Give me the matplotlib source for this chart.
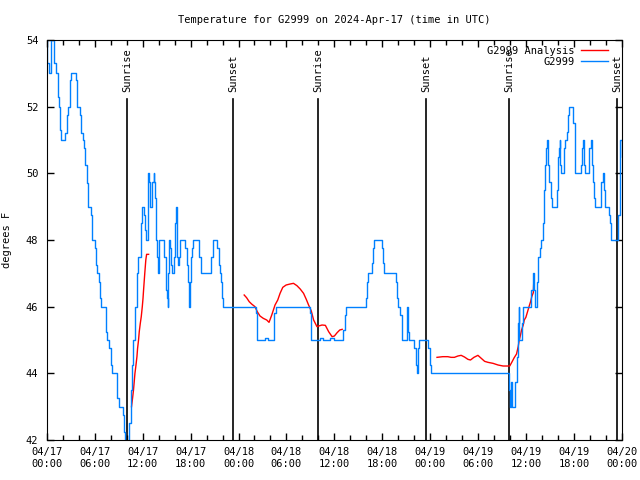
import matplotlib
matplotlib.use("Agg")
import matplotlib.pyplot as plt
from matplotlib.ticker import MultipleLocator, FixedLocator

# -----------------------
# Data (hours since 2024-04-17 00:00 UTC, degrees F)
# -----------------------
obs_hours = [0.0, 0.04, 0.25, 0.54, 0.88, 1.1, 1.38, 1.5, 1.64, 1.72, 1.8, 2.35, 2.48, 2.64,
             2.9, 3.06, 3.61, 3.81, 4.15, 4.32, 4.57, 4.72, 4.85, 5.0, 5.16, 5.58, 5.7, 6.04,
             6.21, 6.33, 6.55, 6.67, 6.84, 7.39, 7.59, 7.8, 8.02, 8.14, 8.85, 9.06, 9.57, 9.69,
             9.82, 10.32, 10.54, 10.66, 10.74, 11.04, 11.24, 11.37, 11.8, 11.87, 12.12, 12.3,
             12.45, 12.63, 12.84, 12.97, 13.13, 13.38, 13.47, 13.56, 13.68, 13.76, 13.89, 14.01,
             14.1, 14.64, 14.73, 14.98, 15.07, 15.14, 15.23, 15.36, 15.44, 15.57, 15.65, 15.9,
             16.07, 16.2, 16.28, 16.4, 16.53, 16.7, 17.33, 17.53, 17.66, 17.75, 17.88, 18.0,
             18.16, 18.29, 19.01, 19.26, 19.35, 20.61, 20.81, 21.31, 21.53, 21.74, 21.86, 21.99,
             22.12, 26.18, 26.35, 27.3, 27.7, 28.45, 28.7, 32.98, 33.11, 34.24, 34.62, 35.5,
             36.0, 37.1, 37.3, 37.42, 39.94, 40.12, 40.24, 40.66, 40.79, 40.95, 41.92, 42.04,
             42.21, 43.68, 43.81, 44.02, 44.22, 44.4, 44.52, 45.03, 45.1, 45.23, 45.35, 45.91,
             46.2, 46.28, 46.49, 46.61, 47.67, 47.96, 48.09, 57.82, 57.94, 58.07, 58.24, 58.57,
             58.79, 59.0, 59.08, 59.16, 59.42, 59.54, 60.59, 60.8, 60.89, 61.02, 61.09, 61.39,
             61.52, 61.72, 61.85, 62.06, 62.22, 62.35, 62.48, 62.6, 62.69, 62.9, 63.07, 63.19,
             63.82, 64.04, 64.11, 64.2, 64.29, 64.41, 64.74, 64.87, 65.08, 65.29, 65.42, 65.92,
             66.09, 66.13, 66.84, 66.97, 67.1, 67.18, 67.31, 67.89, 68.06, 68.19, 68.32, 68.44,
             68.64, 69.4, 69.57, 69.77, 69.9, 70.33, 70.53, 70.66, 71.55, 71.7, 71.8, 71.95, 72.1]
obs_temps = [54.0, 53.3, 53.0, 54.0, 53.3, 53.0, 52.3, 52.0, 51.75, 51.3, 51.0, 51.2, 51.75, 52.0,
             52.8, 53.0, 52.8, 52.0, 51.75, 51.2, 51.0, 50.75, 50.25, 49.7, 49.0, 48.75, 48.0, 47.75,
             47.25, 47.0, 46.75, 46.25, 46.0, 45.25, 45.0, 44.75, 44.25, 44.0, 43.25, 43.0, 42.75, 42.25,
             41.5, 42.5, 43.5, 44.25, 45.0, 46.0, 47.0, 47.5, 48.5, 49.0, 48.75, 48.3,
             48.0, 50.0, 49.75, 49.0, 49.75, 50.0, 49.75, 49.25, 48.0, 47.5, 47.0, 47.5,
             48.0, 47.75, 47.5, 46.5, 46.25, 46.0, 47.0, 48.0, 47.75, 47.25, 47.0, 47.5,
             48.5, 49.0, 47.5, 47.25, 47.5, 48.0, 47.75, 47.25, 46.75, 46.0, 46.75, 47.5,
             47.75, 48.0, 47.5, 47.25, 47.0, 47.5, 48.0, 47.75, 47.25, 47.0, 46.75, 46.25,
             46.0, 45.8, 45.0, 45.05, 45.0, 45.8, 46.0, 45.8, 45.0, 45.05, 45.0, 45.05,
             45.0, 45.3, 45.75, 46.0, 46.25, 46.75, 47.0, 47.3, 47.75, 48.0, 47.75, 47.3,
             47.0, 46.75, 46.25, 46.0, 45.75, 45.25, 45.0, 45.75, 46.0, 45.25, 45.0, 44.75,
             44.25, 44.0, 44.75, 45.0, 44.75, 44.25, 44.0, 43.5, 43.0, 43.75, 43.0, 43.75,
             44.5, 45.5, 46.0, 45.0, 45.5, 46.0, 46.5, 46.75, 47.0, 46.5, 46.0, 46.75,
             47.5, 47.75, 48.0, 48.5, 49.5, 50.25, 50.75, 51.0, 50.25, 49.75, 49.25, 49.0,
             49.5, 50.5, 50.75, 51.0, 50.25, 50.0, 50.75, 51.0, 51.25, 51.75, 52.0, 51.5,
             50.5, 50.0, 50.25, 50.75, 51.0, 50.25, 50.0, 50.75, 51.0, 50.25, 49.75, 49.25,
             49.0, 49.75, 50.0, 49.5, 49.0, 48.75, 48.5, 48.0, 48.75, 50.5, 51.0, 50.5, 50.5]

ana1_hours = [10.61, 10.74, 10.86, 11.04, 11.17, 11.29, 11.37, 11.49, 11.58, 11.71, 11.83,
              11.96, 12.05, 12.12, 12.27, 12.4, 12.5, 12.75]
ana1_temps = [43.0, 43.25, 43.5, 44.0, 44.25, 44.5, 44.75, 45.0, 45.25, 45.5, 45.7,
              46.0, 46.25, 46.5, 47.0, 47.4, 47.57, 47.57]

ana2_hours = [24.71, 25.01, 25.34, 25.64, 26.06, 26.35, 26.69, 27.1, 27.53, 27.82, 28.16,
              28.57, 28.91, 29.2, 29.54, 29.96, 30.46, 30.88, 31.31, 31.72, 32.14, 32.48,
              32.77, 33.11, 33.4, 33.82, 34.03, 34.45, 34.87, 35.28, 35.71, 36.0, 36.34,
              36.67, 36.97]
ana2_temps = [46.35, 46.27, 46.15, 46.08, 46.0, 45.85, 45.72, 45.65, 45.6, 45.53, 45.75,
              46.05, 46.2, 46.4, 46.58, 46.65, 46.68, 46.7, 46.63, 46.53, 46.4, 46.22,
              46.05, 45.87, 45.6, 45.4, 45.42, 45.45, 45.44, 45.25, 45.1, 45.12, 45.22,
              45.3, 45.32]

ana3_hours = [48.84, 49.56, 50.19, 50.6, 51.02, 51.45, 51.86, 52.28, 52.71, 53.03, 53.46,
              53.96, 54.38, 54.8, 55.22, 55.85, 56.48, 57.11, 57.94, 58.24, 58.5, 58.79,
              59.0, 59.13, 59.29, 59.42, 59.63, 59.76, 59.96, 60.17, 60.38, 60.55, 60.7,
              60.89, 60.95]
ana3_temps = [44.48, 44.5, 44.5, 44.48, 44.48, 44.52, 44.54, 44.49, 44.42, 44.4, 44.48,
              44.54, 44.45, 44.36, 44.33, 44.3, 44.25, 44.22, 44.22, 44.35, 44.47, 44.58,
              44.8, 45.0, 45.15, 45.3, 45.45, 45.6, 45.68, 45.85, 46.02, 46.15, 46.3,
              46.42, 46.75]

sunrise_hours = [10.03, 34.0, 57.9]
sunset_hours = [23.37, 47.45, 71.35]

tick_hours = [0, 6, 12, 18, 24, 30, 36, 42, 48, 54, 60, 66, 72]
tick_labels = ["04/17\n00:00", "04/17\n06:00", "04/17\n12:00", "04/17\n18:00",
               "04/18\n00:00", "04/18\n06:00", "04/18\n12:00", "04/18\n18:00",
               "04/19\n00:00", "04/19\n06:00", "04/19\n12:00", "04/19\n18:00",
               "04/20\n00:00"]

# -----------------------
# Plot
# -----------------------
plt.rcParams["font.family"] = ["DejaVu Sans Mono"]
plt.rcParams["font.size"] = 7

fig = plt.figure(figsize=(6.4, 4.8), dpi=100)
ax = fig.add_axes([0.073, 0.0833, 0.899, 0.8334])

blue = "#0080ff"
red = "#ff0000"

for h in sunrise_hours:
    ax.plot([h, h], [42, 52.23], color="black", lw=1.2)
    ax.text(h, 52.44, "Sunrise", rotation=90, ha="center", va="bottom", fontsize=7.5)
for h in sunset_hours:
    ax.plot([h, h], [42, 52.23], color="black", lw=1.2)
    ax.text(h, 52.44, "Sunset", rotation=90, ha="center", va="bottom", fontsize=7.5)

ax.plot(ana1_hours, ana1_temps, color=red, lw=1.0, label="G2999 Analysis")
ax.plot(ana2_hours, ana2_temps, color=red, lw=1.0)
ax.plot(ana3_hours, ana3_temps, color=red, lw=1.0)
ax.step(obs_hours, obs_temps, where="post", color=blue, lw=1.0, label="G2999")

ax.set_xlim(0, 72)
ax.set_ylim(42, 54)
ax.xaxis.set_major_locator(FixedLocator(tick_hours))
ax.set_xticklabels(tick_labels)
ax.xaxis.set_minor_locator(MultipleLocator(2))
ax.yaxis.set_major_locator(MultipleLocator(2))
ax.tick_params(which="both", direction="in", top=True, right=True, width=1)
ax.tick_params(which="major", length=5)
ax.tick_params(which="minor", length=3.5)
ax.tick_params(axis="x", pad=5, labelsize=7.5)
ax.tick_params(axis="y", pad=6, labelsize=7.5)

ax.set_ylabel("degrees F", fontsize=7.5, labelpad=10)
ax.set_title("Temperature for G2999 on 2024-Apr-17 (time in UTC)", fontsize=7.5, pad=12)

ax.legend(loc="upper right", frameon=False, markerfirst=False, fontsize=7.5,
          handlelength=2.6, handletextpad=0.6, labelspacing=0.1,
          borderaxespad=0.15, bbox_to_anchor=(0.985, 1.0))

plt.savefig("out.png", dpi=100)
plt.close()
